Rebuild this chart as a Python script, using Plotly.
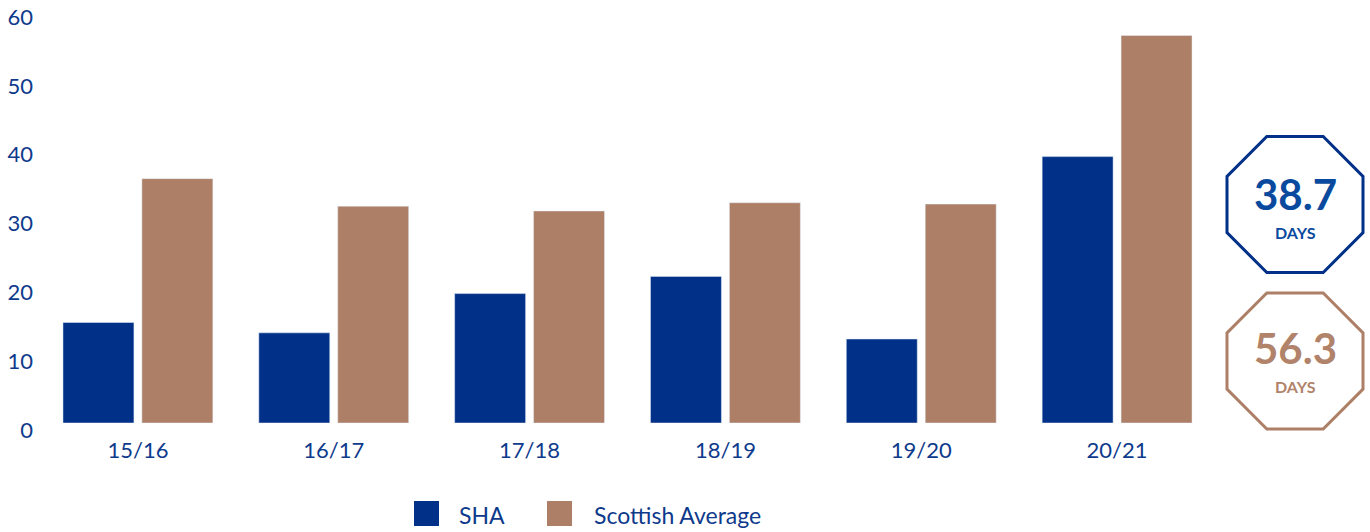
import math
import plotly.graph_objects as go

# ---- data ----
years = ["15/16", "16/17", "17/18", "18/19", "19/20", "20/21"]
sha = [14.6, 13.1, 18.8, 21.3, 12.2, 38.7]
scottish_avg = [35.5, 31.5, 30.8, 32.0, 31.8, 56.3]
series_names = ["SHA", "Scottish Average"]
y_ticks = [0, 10, 20, 30, 40, 50, 60]
badge_values = ["38.7", "56.3"]
badge_unit = "DAYS"

BLUE = "#003087"
BROWN = "#AD7F66"
TEXT_BLUE = "#0E3A8C"
BADGE_BLUE = "#0A4A9E"
BADGE_BROWN = "#B0836A"
FONT = "Lato"

W, H = 1370, 532
ML, MR, MT, MB = 40, 155, 10, 109
PW, PH = W - ML - MR, H - MT - MB


def px(x):
    return (x - ML) / PW


def py(y):
    return (H - MB - y) / PH


fig = go.Figure()
fig.add_trace(go.Bar(x=years, y=sha, name=series_names[0], marker_color=BLUE,
                     showlegend=False, hoverinfo="x+y+name"))
fig.add_trace(go.Bar(x=years, y=scottish_avg, name=series_names[1], marker_color=BROWN,
                     showlegend=False, hoverinfo="x+y+name"))

shapes = []
annotations = []


def octagon(cx, cy, r, color):
    # regular octagon with flat top, r = half width (apothem)
    R = r / math.cos(math.pi / 8)
    pts = []
    for k in range(8):
        a = math.pi / 8 + k * math.pi / 4
        pts.append((px(cx + R * math.cos(a)), py(cy + R * math.sin(a))))
    path = "M " + " L ".join(f"{x:.5f},{y:.5f}" for x, y in pts) + " Z"
    return dict(type="path", xref="paper", yref="paper", path=path,
                line=dict(color=color, width=3), fillcolor="rgba(0,0,0,0)")


badges = [(1295, 204.5, BLUE, BADGE_BLUE, 194, 232), (1295, 361, BROWN, BADGE_BROWN, 348, 386)]
for (cx, cy, lc, tc, vy, uy), val in zip(badges, badge_values):
    shapes.append(octagon(cx, cy, 68, lc))
    annotations.append(dict(x=px(cx), y=py(vy), xref="paper", yref="paper", text=f"<b>{val}</b>",
                            showarrow=False, font=dict(family=FONT, size=42, color=tc),
                            xanchor="center", yanchor="middle"))
    annotations.append(dict(x=px(cx), y=py(uy), xref="paper", yref="paper", text=f"<b>{badge_unit}</b>",
                            showarrow=False, font=dict(family=FONT, size=16, color=tc),
                            xanchor="center", yanchor="middle"))

# legend (manual, large swatches)
legend_items = [(414, 457, BLUE, series_names[0]), (547, 592, BROWN, series_names[1])]
for sx, tx, col, name in legend_items:
    shapes.append(dict(type="rect", xref="paper", yref="paper", x0=px(sx), x1=px(sx + 25),
                       y0=py(526), y1=py(501), fillcolor=col, line=dict(width=0)))
    annotations.append(dict(x=px(tx), y=py(515), xref="paper", yref="paper", text=name,
                            showarrow=False, font=dict(family=FONT, size=23, color=TEXT_BLUE),
                            xanchor="left", yanchor="middle"))

fig.update_layout(
    width=W, height=H,
    margin=dict(l=ML, r=MR, t=MT, b=MB, autoexpand=False),
    paper_bgcolor="white", plot_bgcolor="white",
    barmode="group", bargap=0.194, bargroupgap=0.101,
    font=dict(family=FONT, color=TEXT_BLUE, size=20),
    shapes=shapes, annotations=annotations,
    showlegend=False,
)
fig.update_xaxes(showgrid=False, showline=False, zeroline=False, ticks="",
                 tickfont=dict(family=FONT, size=22, color=TEXT_BLUE), range=[-0.5, 5.5],
                 ticklabelstandoff=12)
fig.update_yaxes(range=[0, 60], tickvals=y_ticks, showgrid=False, showline=False, zeroline=False,
                 ticks="", tickfont=dict(family=FONT, size=22, color=TEXT_BLUE),
                 ticklabelshift=7, ticklabelstandoff=6)

fig.write_html("out.html", config={"displayModeBar": False},
               post_script="document.body.style.margin='0';document.body.style.overflow='hidden';")
